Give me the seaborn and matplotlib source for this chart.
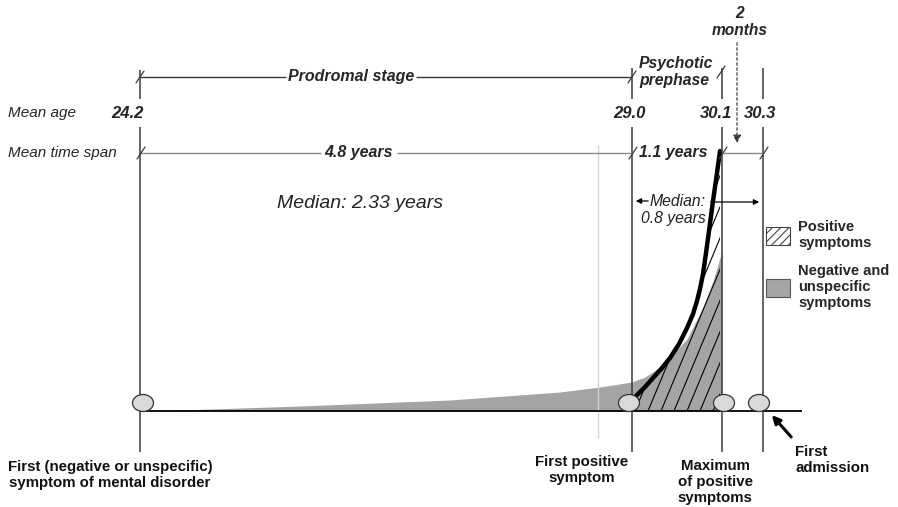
import numpy as np
import pandas as pd
import matplotlib
matplotlib.use("Agg")
import matplotlib.pyplot as plt
from matplotlib.patches import Ellipse, Patch
from matplotlib.collections import LineCollection
import seaborn as sns

# --- data ---
event_labels = ["First (negative or unspecific)\nsymptom of mental disorder",
                "First positive\nsymptom",
                "Maximum\nof positive\nsymptoms",
                "First\nadmission"]
mean_age = [24.2, 29.0, 30.1, 30.3]
span_labels = ["4.8 years", "1.1 years"]
gap_label = "2 months"
stage_labels = ["Prodromal stage", "Psychotic\nprephase"]
median_labels = ["Median: 2.33 years", "Median:\n0.8 years"]
legend_labels = ["Positive\nsymptoms", "Negative and\nunspecific\nsymptoms"]

# symptom intensity profiles (diagram units: x position, height above time axis)
neg_x = [150, 300, 450, 560, 600, 632, 645, 660, 672, 687, 703, 713, 722]
neg_h = [0, 5, 11, 19, 24, 29, 34, 44, 56, 72, 104, 130, 160]
pos_x = [634, 645, 653, 662, 670, 679, 687, 693, 697, 700, 703, 706, 709, 713, 717, 720]
pos_h = [13, 24, 33, 43, 53, 67, 83, 97, 110, 122, 137, 158, 180, 210, 238, 260]

# --- layout (pixel-like diagram coordinates) ---
event_x = [140, 632, 722, 763]
base_y = 411
age_y, span_y, stage_y = 113, 153, 77
dark, mid = "#3a3a3a", "#8a8a8a"
gray_fill = "#a4a4a4"

sns.set_theme(style="white")
plt.rcParams['font.family'] = ['Liberation Sans', 'DejaVu Sans']
plt.rcParams['hatch.linewidth'] = 0.8

fig = plt.figure(figsize=(8.98, 5.07), dpi=100)
ax = fig.add_axes([0, 0, 1, 1])
ax.set_xlim(0, 898)
ax.set_ylim(507, 0)
ax.axis("off")

def slash(x, y, color=dark):
    ax.plot([x - 4, x + 4], [y + 6, y - 6], color=color, lw=0.9)

# faint guide line
ax.vlines(598, 145, 438, color="#d4d4d4", lw=1)

# symptom areas
neg = pd.DataFrame({"x": neg_x, "h": neg_h})
pos = pd.DataFrame({"x": pos_x, "h": pos_h})
ax.fill_between(neg["x"], base_y, base_y - neg["h"], color=gray_fill, lw=0)
pos_area = ax.fill_between(pos["x"], base_y, base_y - pos["h"],
                           facecolor="none", lw=0)

# steep hatch lines clipped to the positive-symptom area
starts = np.arange(596, 740, 13)
segs = [[(s, base_y), (s + 300 / 2.4, base_y - 300)] for s in starts]
hatch = LineCollection(segs, colors="black", linewidths=0.8)
ax.add_collection(hatch)
hatch.set_clip_path(pos_area.get_paths()[0], ax.transData)

sns.lineplot(x=pos["x"], y=base_y - pos["h"], ax=ax, color="black",
             lw=3.2, sort=False)

# time axis
ax.hlines(base_y, event_x[0], 802, color="black", lw=1.3)

# vertical event lines with gap for mean age values
tops = [70, 68, 68, 68]
for x, t in zip(event_x, tops):
    ax.vlines(x, t, age_y - 14, color=dark, lw=1.1)
    ax.vlines(x, age_y + 14, 452, color=dark, lw=1.1)

# event markers
marker_dx = [3, -3, 2, -4]
for x, dx in zip(event_x, marker_dx):
    ax.add_patch(Ellipse((x + dx, base_y - 8), 21, 17, facecolor="#d9d9d9",
                         edgecolor="#333333", lw=0.9, zorder=4))

# stage line
ax.hlines(stage_y, event_x[0], 286, color=dark, lw=1)
ax.hlines(stage_y, 416, event_x[1], color=dark, lw=1)
ax.text(351, stage_y, stage_labels[0], ha="center", va="center",
        fontsize=11.5, fontweight="bold", fontstyle="italic")
ax.text(639, 72, stage_labels[1], ha="left", va="center", fontsize=11.3,
        fontweight="bold", fontstyle="italic", linespacing=1.15)
slash(event_x[0], stage_y)
slash(event_x[1], stage_y)
slash(event_x[2] - 1, 72)

# mean age row
ax.text(8, age_y, "Mean age", ha="left", va="center", fontsize=11,
        fontstyle="italic")
age_dx = [-13, -3, -6, -3]
for x, dx, a in zip(event_x, age_dx, mean_age):
    ax.text(x + dx, age_y, f"{a:.1f}", ha="center", va="center",
            fontsize=12, fontweight="bold", fontstyle="italic")

# mean time span row
ax.text(8, span_y, "Mean time span", ha="left", va="center", fontsize=11,
        fontstyle="italic")
ax.hlines(span_y, event_x[0], 321, color=mid, lw=1)
ax.hlines(span_y, 397, event_x[1], color=mid, lw=1)
ax.hlines(span_y, event_x[2], event_x[3], color=mid, lw=1)
ax.text(359, span_y, span_labels[0], ha="center", va="center", fontsize=11.5,
        fontweight="bold", fontstyle="italic")
ax.text(639, span_y, span_labels[1], ha="left", va="center", fontsize=11.5,
        fontweight="bold", fontstyle="italic")
for x in event_x:
    slash(x + 1, span_y)

# 2 months annotation
ax.text(740, 22, gap_label.replace(" ", "\n"), ha="center", va="center",
        fontsize=11.2, fontweight="bold", fontstyle="italic", linespacing=1.15)
ax.annotate("", xy=(737, 146), xytext=(737, 40),
            arrowprops=dict(arrowstyle="-|>", color=dark, lw=0.9,
                            linestyle=(0, (2, 2)), mutation_scale=12))

# medians
ax.text(360, 204, median_labels[0], ha="center", va="center", fontsize=14,
        fontstyle="italic", color="#222222")
ax.text(706, 210, median_labels[1], ha="right", va="center", fontsize=11.3,
        fontstyle="italic", color="#222222", linespacing=1.25,
        multialignment="right")
ax.annotate("", xy=(633, 201), xytext=(651, 201),
            arrowprops=dict(arrowstyle="-|>", color="black", lw=0.9,
                            mutation_scale=8))
ax.annotate("", xy=(762, 202), xytext=(708, 202),
            arrowprops=dict(arrowstyle="-|>", color="black", lw=0.9,
                            mutation_scale=8))

# event captions
cap_pos = [(110, 475, "center"), (582, 470, "center"),
           (715, 482, "center"), (795, 460, "left")]
for (x, y, ha), lab in zip(cap_pos, event_labels):
    ax.text(x, y, lab, ha=ha, va="center", fontsize=10.8, fontweight="bold",
            linespacing=1.2, color="#111111")
ax.annotate("", xy=(770, 413), xytext=(793, 439),
            arrowprops=dict(arrowstyle="-|>", color="black", lw=2.2,
                            mutation_scale=12))

# legend
handles = [Patch(facecolor="white", edgecolor="#444444", hatch="////", lw=0.8),
           Patch(facecolor=gray_fill, edgecolor="#555555", lw=0.8)]
leg = ax.legend(handles, legend_labels, loc="upper left",
                bbox_to_anchor=(766 / 898, 1 - 220 / 507), frameon=False,
                handlelength=1.65, handleheight=1.55, handletextpad=0.55,
                labelspacing=0.95, borderpad=0, borderaxespad=0,
                prop=dict(family="Liberation Sans", weight="bold", size=10.5))
for t in leg.get_texts():
    t.set_linespacing(1.2)

fig.savefig("out.png", dpi=100)
